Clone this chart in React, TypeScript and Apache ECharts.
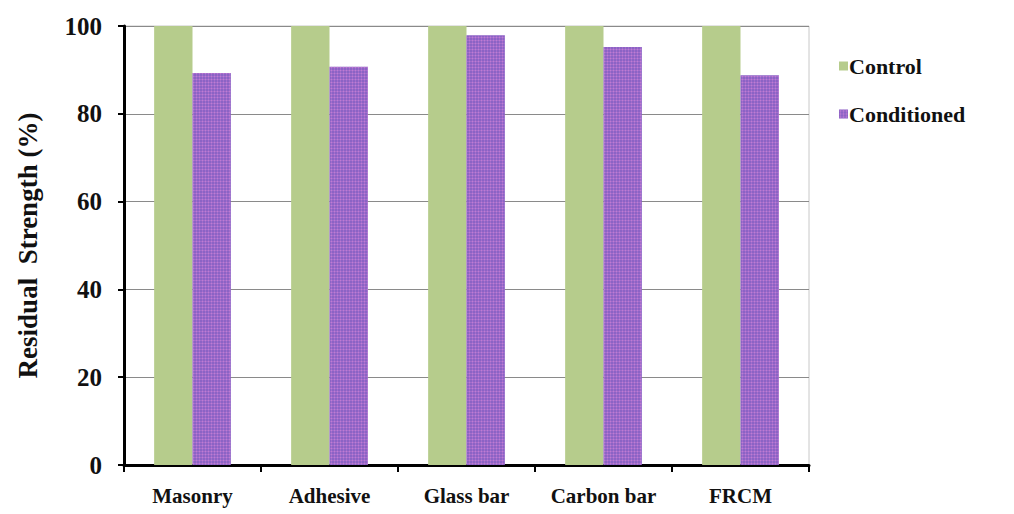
import React, { useEffect, useRef } from "react";
import * as echarts from "echarts";

const categories = ["Masonry", "Adhesive", "Glass bar", "Carbon bar", "FRCM"];
const controlValues = [100, 100, 100, 100, 100];
const conditionedValues = [89.3, 90.7, 97.9, 95.2, 88.8];
const yTicks = [0, 20, 40, 60, 80, 100];

export default function App() {
  const ref = useRef<HTMLDivElement>(null);
  useEffect(() => {
    if (!ref.current) return;
    const chart = echarts.init(ref.current, null, { renderer: "svg" });
    const font = "'Liberation Serif', 'Times New Roman', serif";
    chart.setOption({
      animation: false,
      backgroundColor: "#ffffff",
      grid: { left: 124, right: 205, top: 26, bottom: 49, show: true, borderColor: "#c8c8c8", borderWidth: 1 },
      legend: {
        orient: "vertical",
        left: 834,
        top: 50,
        itemWidth: 9,
        itemHeight: 9,
        itemGap: 26,
        icon: "rect",
        textStyle: { fontFamily: font, fontWeight: "bold", fontSize: 22, color: "#111", padding: [0, 0, 0, -4] },
        data: ["Control", "Conditioned"],
      },
      xAxis: {
        type: "category",
        data: categories,
        axisLine: { lineStyle: { color: "#000", width: 3 } },
        axisTick: { show: true, interval: 0, length: 7, lineStyle: { color: "#000", width: 2 } },
        axisLabel: { interval: 0, fontFamily: font, fontWeight: "bold", fontSize: 21, color: "#111", margin: 20 },
      },
      yAxis: {
        type: "value",
        min: 0,
        max: 100,
        interval: 20,
        name: "Residual  Strength (%)",
        nameLocation: "middle",
        nameGap: 83,
        nameTextStyle: { fontFamily: font, fontWeight: "bold", fontSize: 27, color: "#111" },
        axisLine: { show: true, lineStyle: { color: "#000", width: 3 } },
        axisTick: { show: true, length: 6, lineStyle: { color: "#000", width: 2 } },
        axisLabel: {
          fontFamily: font,
          fontWeight: "bold",
          fontSize: 25,
          color: "#111",
          margin: 22,
          formatter: (v: number) => (yTicks.includes(v) ? String(v) : ""),
        },
        splitLine: { show: true, lineStyle: { color: "#8a8a8a", width: 1 } },
      },
      series: [
        {
          name: "Control",
          type: "bar",
          data: controlValues,
          barGap: "0%",
          barCategoryGap: "44%",
          itemStyle: { color: "#b6cc8c" },
        },
        {
          name: "Conditioned",
          type: "bar",
          data: conditionedValues,
          itemStyle: {
            color: "#8560c4",
            decal: {
              symbol: "circle",
              symbolSize: 0.7,
              color: "rgba(206,130,214,0.8)",
              dashArrayX: [3, 0],
              dashArrayY: [3, 0],
              rotation: 0,
            },
          },
        },
      ],
    });
    return () => chart.dispose();
  }, []);
  return <div ref={ref} style={{ width: 1014, height: 514, position: "absolute", left: 0, top: 0 }} />;
}
